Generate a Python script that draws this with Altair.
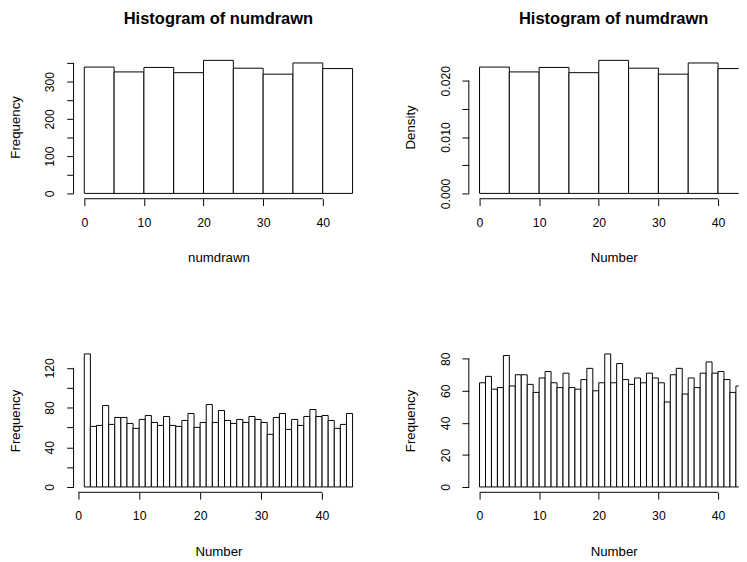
import altair as alt
import pandas as pd

FONT = "Liberation Sans"

# observed frequency of each drawn number 1..45
numbers = list(range(1, 46))
counts = [65, 69, 61, 62, 82, 63, 70, 70, 64, 59,
          68, 72, 65, 62, 71, 62, 61, 67, 74, 60,
          65, 83, 65, 77, 67, 64, 68, 65, 71, 68,
          65, 53, 70, 74, 58, 68, 62, 71, 78, 71,
          72, 67, 59, 63, 74]

x_ticks = [0, 10, 20, 30, 40]

# --- histogram tables built from the counts ---
total = sum(counts)
breaks5 = list(range(0, 50, 5))
bin5 = []
for lo, hi in zip(breaks5[:-1], breaks5[1:]):
    bin5.append(sum(c for n, c in zip(numbers, counts) if lo < n <= hi))
df_freq5 = pd.DataFrame({"lo": breaks5[:-1], "hi": breaks5[1:], "val": bin5})
df_dens5 = pd.DataFrame({"lo": breaks5[:-1], "hi": breaks5[1:],
                         "val": [b / (total * 5) for b in bin5]})

# breaks 1..45 (first bin [1,2] holds both 1 and 2)
bl_lo = list(range(1, 45))
bl_hi = list(range(2, 46))
bl_val = [counts[0] + counts[1]] + counts[2:]
df_bl = pd.DataFrame({"lo": bl_lo, "hi": bl_hi, "val": bl_val})

# breaks 0..45
br_lo = list(range(0, 45))
br_hi = list(range(1, 46))
df_br = pd.DataFrame({"lo": br_lo, "hi": br_hi, "val": counts})


def panel(df, xdom, ydom, yvals, ylab_expr, yfmt, yline_top, ytitle, xtitle,
          title, width, height, full_w):
    xs = alt.Scale(domain=xdom, nice=False, zero=False)
    ys = alt.Scale(domain=ydom, nice=False, zero=False)
    xaxis = alt.Axis(values=x_ticks, domain=False, grid=False, tickSize=7,
                     tickColor="black", tickWidth=1, labelFont=FONT,
                     labelFontSize=12.5, labelColor="black",
                     labelBaseline="alphabetic", labelPadding=21,
                     labelFlush=False, labelOverlap=False, title=xtitle,
                     titleFont=FONT, titleFontSize=13.5, titleFontWeight="normal",
                     titleColor="black", titleBaseline="alphabetic",
                     titleY=64, titleX=full_w / 2)
    yaxis = alt.Axis(values=yvals, domain=False, grid=False, tickSize=7,
                     tickColor="black", tickWidth=1, labelFont=FONT,
                     labelFontSize=12.5, labelColor="black", labelAngle=270,
                     labelAlign="center", labelBaseline="alphabetic",
                     labelPadding=13, labelExpr=ylab_expr, format=yfmt,
                     labelFlush=False, labelOverlap=False, title=ytitle,
                     titleFont=FONT, titleFontSize=13.5, titleFontWeight="normal",
                     titleColor="black", titleAngle=270,
                     titleBaseline="alphabetic", titleX=-55, titleY=height / 2)
    bars = alt.Chart(df).mark_rect(fill="white", stroke="black",
                                   strokeWidth=1, clip=True).encode(
        x=alt.X("lo:Q", scale=xs, axis=xaxis),
        x2="hi:Q",
        y=alt.Y("val:Q", scale=ys, axis=yaxis),
        y2=alt.datum(0),
    )
    one = pd.DataFrame({"k": [0]})
    xline = alt.Chart(one).mark_rule(color="black", strokeWidth=1).encode(
        x=alt.XDatum(x_ticks[0], axis=xaxis), x2=alt.datum(x_ticks[-1]),
        y=alt.YDatum(ydom[0], axis=yaxis))
    yline = alt.Chart(one).mark_rule(color="black", strokeWidth=1).encode(
        y=alt.YDatum(0, axis=yaxis), y2=alt.datum(yline_top),
        x=alt.XDatum(xdom[0], axis=xaxis))
    layer = alt.layer(bars, xline, yline).properties(width=width, height=height)
    if title:
        layer = layer.properties(title=alt.TitleParams(
            title, font=FONT, fontSize=16.8, fontWeight="bold", color="black",
            baseline="alphabetic", offset=14.8, anchor="middle",
            dx=(full_w - width) / 2))
    return layer


W = 295.2
H = 146.4
WR = 275.0
XR_MAX = 43.47
# top-left: frequency, 5-wide bins
p1 = panel(df_freq5, [-1.8, 46.8], [-14.28, 371.28], list(range(0, 400, 50)),
           "datum.value % 100 == 0 ? datum.label : ''", "d", 350,
           "Frequency", "numdrawn", "Histogram of numdrawn", W, H, W)
# top-right: density
p2 = panel(df_dens5, [-1.8, XR_MAX], [-0.000944, 0.024547],
           [0, 0.005, 0.01, 0.015, 0.02],
           "indexof(['0.000','0.010','0.020'], datum.label) >= 0 ? datum.label : ''",
           ".3f", 0.02, "Density", "Number", "Histogram of numdrawn", WR, H, W)
# bottom-left: 1-wide bins from 1
p3 = panel(df_bl, [-0.76, 46.76], [-5.36, 139.36], list(range(0, 140, 20)),
           "datum.value % 40 == 0 ? datum.label : ''", "d", 120,
           "Frequency", "Number", None, W, H, W)
# bottom-right: 1-wide bins from 0
p4 = panel(df_br, [-1.8, XR_MAX], [-3.32, 86.32], list(range(0, 100, 20)),
           "datum.label", "d", 80,
           "Frequency", "Number", None, WR, H, W)

chart = alt.concat(p1, p2, p3, p4, columns=2,
                   spacing={"row": 152.1, "column": 106.7},
                   bounds="flush").properties(
    padding={"left": 0.8, "top": -2.3, "right": 0, "bottom": 0},
    background="white",
).configure_view(stroke=None).configure_axis(labelOverlap=False)

chart.save("out.html", embed_options={"renderer": "svg", "actions": False})
